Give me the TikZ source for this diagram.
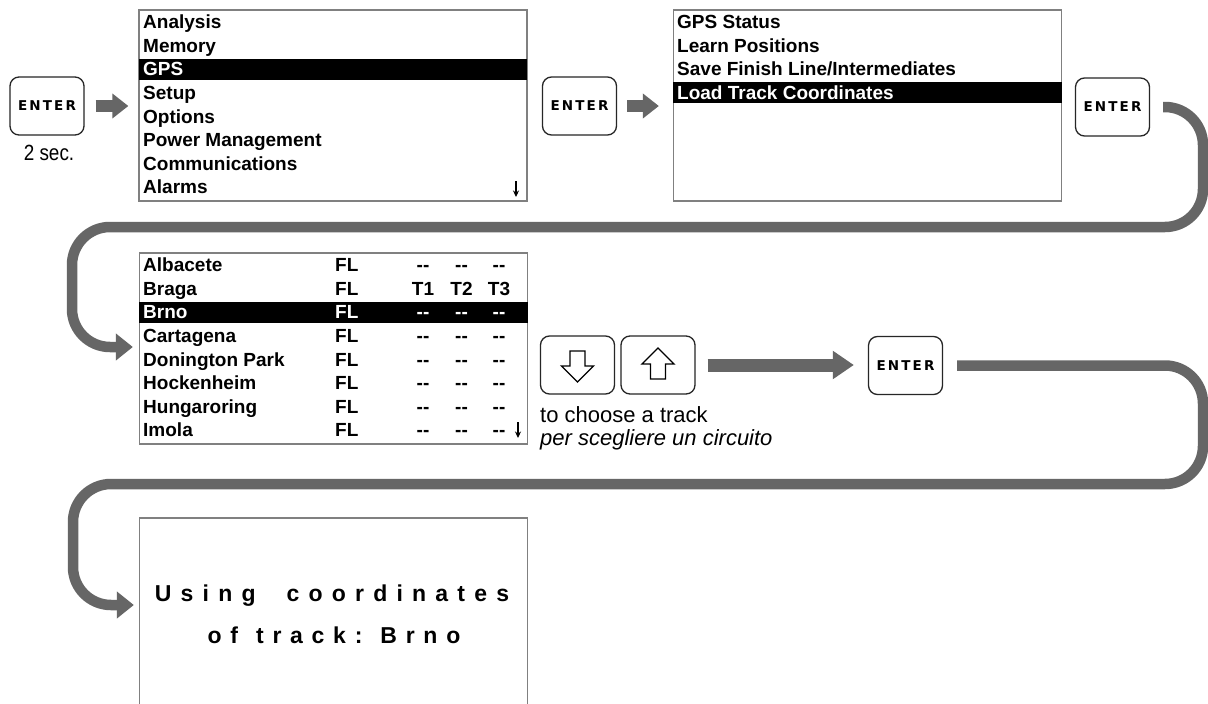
\documentclass[tikz,border=0pt]{standalone}
\usepackage{fontspec}
\setmainfont{Liberation Sans}
\newfontfamily\keyfont[LetterSpace=16]{DejaVu Sans}
\newfontfamily\condfont[FakeStretch=0.86]{Liberation Sans}
\newfontfamily\spacedfont[LetterSpace=40]{Liberation Sans}
\newfontfamily\spacedfontb[LetterSpace=38]{Liberation Sans}
\usetikzlibrary{arrows.meta,calc}
\definecolor{flow}{HTML}{666666}
\definecolor{frame}{HTML}{808080}
\newcommand\dsh{-{}-}
\tikzset{
  key/.style={draw=black!85,line width=1.3pt,rounded corners=9pt,fill=white,
    minimum width=74pt,minimum height=58pt,inner sep=0pt,
    font=\keyfont\bfseries\fontsize{13.5}{14}\selectfont},
  screen/.style={draw=frame,line width=1.3pt,inner sep=0pt,minimum width=388pt,minimum height=191pt},
  item/.style={anchor=base west,inner sep=0pt,font=\bfseries\fontsize{19}{19}\selectfont},
  col/.style={anchor=base,inner sep=0pt,font=\bfseries\fontsize{19}{19}\selectfont},
  hlitem/.style={item,text=white},
  hlcol/.style={col,text=white},
  selbar/.style={fill=black},
  flowline/.style={draw=flow,line width=10.5pt,rounded corners=38pt,-{Triangle[length=17pt,width=26pt]}},
  steparrow/.style={draw=flow,line width=12pt,-{Triangle[length=16pt,width=24pt]}},
  bigarrow/.style={draw=flow,line width=13pt,-{Triangle[length=21pt,width=27pt]}},
  scrollmark/.style={line width=1.1pt,-{Stealth[length=6.5pt,width=6pt]}},
  glyph/.style={draw=black,line width=1.3pt,fill=white,line join=miter},
  caption/.style={anchor=base west,inner sep=0pt,font=\fontsize{22}{22}\selectfont},
  bigmsg/.style={anchor=base,inner sep=0pt,font=\spacedfont\bfseries\fontsize{23}{23}\selectfont},
  bigmsgb/.style={anchor=base,inner sep=0pt,font=\spacedfontb\bfseries\fontsize{23}{23}\selectfont},
}
\begin{document}
\begin{tikzpicture}[x=1pt,y=-1pt]
\clip (0,0) rectangle (1208,704);
\fill[white] (0,0) rectangle (1208,704);

% ---------- first row ----------
\node[key] (k1) at (47,106) {ENTER};
\node[anchor=base,inner sep=0pt,font=\condfont\fontsize{22}{22}\selectfont] (sec) at (49,160) {2 sec.};

\node[screen] (m1) at (333,105.5) {};
\fill[selbar] (139,58.7) rectangle (527,79.7);
\node[item] (m1a) at (143,28.7) {Analysis};
\node[item] (m1b) at (143,52.3) {Memory};
\node[hlitem] (m1c) at (143,75.9) {GPS};
\node[item] (m1d) at (143,99.5) {Setup};
\node[item] (m1e) at (143,123.1) {Options};
\node[item] (m1f) at (143,146.7) {Power Management};
\node[item] (m1g) at (143,170.3) {Communications};
\node[item] (m1h) at (143,193.9) {Alarms};
\draw[scrollmark] (516,181) -- (516,197);

\node[key] (k2) at (579.5,106) {ENTER};

\node[screen] (m2) at (867.5,105.5) {};
\fill[selbar] (673,82.3) rectangle (1062,103.3);
\node[item] (m2a) at (677,28.7) {GPS Status};
\node[item] (m2b) at (677,52.3) {Learn Positions};
\node[item] (m2c) at (677,75.9) {Save Finish Line/Intermediates};
\node[hlitem] (m2d) at (677,99.5) {Load Track Coordinates};

\node[key] (k3) at (1112.5,107) {ENTER};

\draw[steparrow] ($(k1.east)+(11,0)$) -- ($(k1.east -| m1.west)+(-10,0)$);
\draw[steparrow] ($(k2.east)+(10,0)$) -- ($(k2.east -| m2.west)+(-14,0)$);

% ---------- track list ----------
\node[screen] (tl) at (333.5,348.5) {};
\fill[selbar] (139,301.7) rectangle (528,322.7);
\node[item] (ta) at (143,271.7) {Albacete};
\node[item] (tb) at (143,295.3) {Braga};
\node[hlitem] (tc) at (143,318.9) {Brno};
\node[item] (td) at (143,342.5) {Cartagena};
\node[item] (te) at (143,366.1) {Donington Park};
\node[item] (tf) at (143,389.7) {Hockenheim};
\node[item] (tg) at (143,413.3) {Hungaroring};
\node[item] (th) at (143,436.9) {Imola};
\foreach \yy [count=\n] in {271.7,295.3,342.5,366.1,389.7,413.3,436.9}{
  \node[item] (fl\n) at (335,\yy) {FL};
}
\node[hlitem] (flsel) at (335,318.9) {FL};
\foreach \yy [count=\n] in {271.7,342.5,366.1,389.7,413.3,436.9}{
  \node[col] (da\n) at (423,\yy) {\dsh};
  \node[col] (db\n) at (461.5,\yy) {\dsh};
  \node[col] (dc\n) at (499,\yy) {\dsh};
}
\node[col] (tt1) at (423,295.3) {T1};
\node[col] (tt2) at (461.5,295.3) {T2};
\node[col] (tt3) at (499,295.3) {T3};
\node[hlcol] (hs1) at (423,318.9) {\dsh};
\node[hlcol] (hs2) at (461.5,318.9) {\dsh};
\node[hlcol] (hs3) at (499,318.9) {\dsh};
\draw[scrollmark] (518,422) -- (518,438);

% ---------- arrow keys ----------
\node[key] (dn) at (577.5,365) {};
\node[key] (up) at (658,365) {};
\begin{scope}[shift={(dn.center)}]
  \draw[glyph] (-7.5,-14) -- (7.5,-14) -- (7.5,1) -- (16,1) -- (0,17) -- (-16,1) -- (-7.5,1) -- cycle;
\end{scope}
\begin{scope}[shift={(up.center)}]
  \draw[glyph] (-7.5,14) -- (7.5,14) -- (7.5,-1) -- (16,-1) -- (0,-17) -- (-16,-1) -- (-7.5,-1) -- cycle;
\end{scope}
\node[caption] (c1) at (540,422) {to choose a track};
\node[caption,font=\itshape\fontsize{22}{22}\selectfont] (c2) at (540,445) {per scegliere un circuito};

\node[key] (k4) at (905.5,365.5) {ENTER};
\draw[bigarrow] ($(up.east)+(12,0)$) -- ($(up.east -| k4.west)+(-14,0)$);

% ---------- final screen ----------
\node[screen] (fin) at (333.5,613.5) {};
\node[bigmsg] (u1) at (332,601.5) {Using\ \ coordinates};
\node[bigmsgb] (u2) at (334,643) {of\hspace{18pt}track:\hspace{18pt}Brno};

% ---------- connectors ----------
\coordinate (r1) at (1203,227);
\coordinate (l1) at (72,227);
\coordinate (r2) at (1203,484);
\coordinate (l2) at (73,484);
\draw[flowline] ($(k3.east)+(13,0)$) -| (r1) -- (l1) |- ($(tl.west)+(-6,-1.5)$);
\draw[flowline] ($(k4.east)+(14,0)$) -| (r2) -- (l2) |- ($(fin.west)+(-5,-8.5)$);
\end{tikzpicture}
\end{document}
